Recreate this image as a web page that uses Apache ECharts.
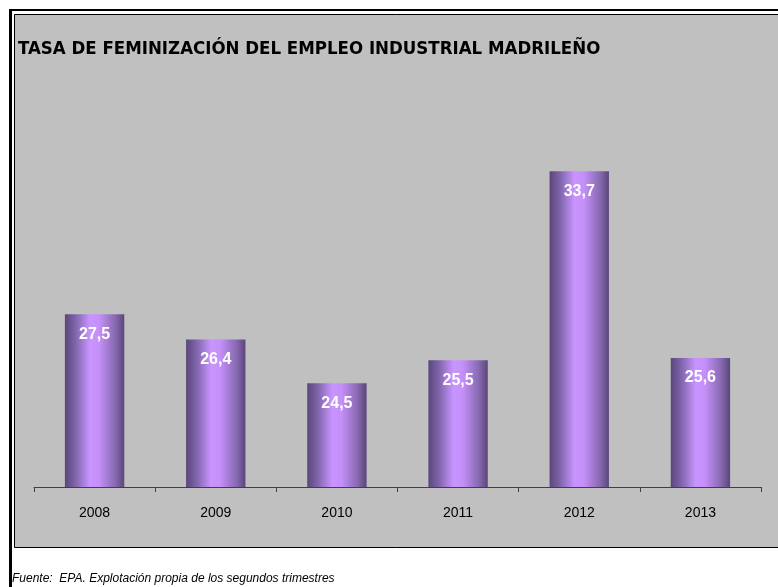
<!DOCTYPE html>
<html>
<head>
<meta charset="utf-8">
<script src="https://cdn.jsdelivr.net/npm/echarts@6/dist/echarts.min.js"></script>
<style>html,body{margin:0;padding:0;background:#fff}#c{width:778px;height:587px}</style>
</head>
<body>
<div id="c"></div>
<script>
const titleText = 'TASA DE FEMINIZACIÓN DEL EMPLEO INDUSTRIAL MADRILEÑO';
const footnote = 'Fuente:  EPA. Explotación propia de los segundos trimestres';
const categories = ['2008', '2009', '2010', '2011', '2012', '2013'];
const values = [27.5, 26.4, 24.5, 25.5, 33.7, 25.6];

const chart = echarts.init(document.getElementById('c'), null, {renderer: 'canvas'});
const barGradient = new echarts.graphic.LinearGradient(0, 0, 1, 0, [
  {offset: 0, color: '#5b467b'},
  {offset: 0.18, color: '#8065ab'},
  {offset: 0.42, color: '#c894ff'},
  {offset: 0.58, color: '#c48ff8'},
  {offset: 0.85, color: '#8669b0'},
  {offset: 1, color: '#5b467b'}
]);

chart.setOption({
  backgroundColor: '#ffffff',
  animation: false,
  title: {
    text: titleText,
    left: 18,
    top: 39.5,
    padding: 0,
    textStyle: {
      fontFamily: "'DejaVu Sans Condensed', 'Liberation Sans'",
      fontWeight: 'bold',
      fontSize: 18.5,
      color: '#000'
    }
  },
  graphic: [
    {type: 'rect', z: -10, silent: true,
     shape: {x: 14.5, y: 14.5, width: 780, height: 533},
     style: {fill: '#c0c0c0', stroke: '#000', lineWidth: 1}},
    {type: 'rect', z: -5, silent: true,
     shape: {x: 9, y: 9, width: 769, height: 2}, style: {fill: '#000'}},
    {type: 'rect', z: -5, silent: true,
     shape: {x: 9, y: 9, width: 3, height: 578}, style: {fill: '#000'}},
    {type: 'text', z: -5, silent: true,
     style: {x: 12, y: 573, text: footnote,
       font: "italic 12px 'Liberation Sans'", fill: '#000', verticalAlign: 'top'}}
  ],
  grid: {left: 34, right: 17, top: 26, bottom: 100, containLabel: false},
  xAxis: {
    type: 'category',
    data: categories,
    axisLine: {lineStyle: {color: '#404040', width: 1}},
    axisTick: {show: true, length: 5, lineStyle: {color: '#404040'}},
    axisLabel: {color: '#000', fontFamily: 'Liberation Sans', fontSize: 14, margin: 19}
  },
  yAxis: {
    type: 'value',
    min: 20,
    max: 40,
    show: false,
    splitLine: {show: false}
  },
  series: [{
    type: 'bar',
    data: values,
    barWidth: '49%',
    itemStyle: {color: barGradient},
    label: {
      show: true,
      position: 'insideTop',
      distance: 12,
      color: '#fff',
      fontFamily: 'Liberation Sans',
      fontWeight: 'bold',
      fontSize: 16,
      formatter: p => String(p.value).replace('.', ',')
    }
  }]
});
</script>
</body>
</html>
